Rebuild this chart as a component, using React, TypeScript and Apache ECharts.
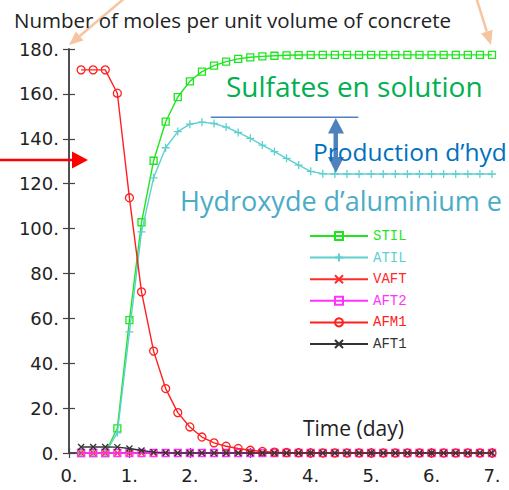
import React, { useEffect, useRef } from "react";
import * as echarts from "echarts";

const time = [0.2, 0.4, 0.6, 0.8, 1.0, 1.2, 1.4, 1.6, 1.8, 2.0, 2.2, 2.4, 2.6, 2.8, 3.0, 3.2, 3.4, 3.6, 3.8, 4.0, 4.2, 4.4, 4.6, 4.8, 5.0, 5.2, 5.4, 5.6, 5.8, 6.0, 6.2, 6.4, 6.6, 6.8, 7.0];
const STIL = [0, 0, 0, 11, 59.2, 102.8, 130.2, 147.6, 158.6, 165.6, 169.9, 172.6, 174.4, 175.6, 176.3, 176.7, 177.0, 177.2, 177.3, 177.4, 177.4, 177.4, 177.4, 177.4, 177.4, 177.4, 177.4, 177.4, 177.4, 177.4, 177.4, 177.4, 177.4, 177.4, 177.4];
const ATIL = [0, 0, 0, 9, 54, 98.5, 122.6, 136, 143.2, 146.5, 147.4, 146.8, 145.2, 142.8, 140.2, 137.2, 134.3, 131.3, 128.3, 125.5, 124.4, 124.3, 124.3, 124.3, 124.3, 124.3, 124.3, 124.3, 124.3, 124.3, 124.3, 124.3, 124.3, 124.3, 124.3];
const VAFT = [0, 0, 0, 0, 0, 0, 0, 0, 0, 0, 0, 0, 0, 0, 0, 0, 0, 0, 0, 0, 0, 0, 0, 0, 0, 0, 0, 0, 0, 0, 0, 0, 0, 0, 0];
const AFT2 = [0, 0, 0, 0, 0, 0, 0, 0, 0, 0, 0, 0, 0, 0, 0, 0, 0, 0, 0, 0, 0, 0, 0, 0, 0, 0, 0, 0, 0, 0, 0, 0, 0, 0, 0];
const AFM1 = [170.7, 170.7, 170.7, 160.3, 113.7, 71.8, 45.4, 28.7, 18.0, 11.6, 7.1, 4.5, 3.0, 2.0, 1.2, 0.7, 0.4, 0.2, 0.1, 0, 0, 0, 0, 0, 0, 0, 0, 0, 0, 0, 0, 0, 0, 0, 0];
const AFT1 = [2.7, 2.7, 2.7, 2.6, 2.0, 1.1, 0.4, 0.1, 0, 0, 0, 0, 0, 0, 0, 0, 0, 0, 0, 0, 0, 0, 0, 0, 0, 0, 0, 0, 0, 0, 0, 0, 0, 0, 0];

const seriesNames = ["STIL", "ATIL", "VAFT", "AFT2", "AFM1", "AFT1"];
const seriesValues = [STIL, ATIL, VAFT, AFT2, AFM1, AFT1];
const seriesColors = ["#1ee61e", "#5fd0d0", "#ff2a2a", "#ff33ff", "#ff2020", "#333333"];
const seriesSymbols = [
  "path://M0,0H10V10H0Z",
  "path://M5,0V10M0,5H10",
  "path://M0,0L10,10M10,0L0,10",
  "path://M0,0H10V10H0Z",
  "circle",
  "path://M0,0L10,10M10,0L0,10",
];
const seriesSymbolSizes = [7, 8, 6, 7, 8, 6];

const xTicks = { min: 0, max: 7, interval: 1 };
const yTicks = { min: 0, max: 180, interval: 20 };

function arrowHead(x1: number, y1: number, x2: number, y2: number, len: number, w: number) {
  const dx = x2 - x1, dy = y2 - y1;
  const d = Math.sqrt(dx * dx + dy * dy);
  const ux = dx / d, uy = dy / d;
  const bx = x2 - ux * len, by = y2 - uy * len;
  const px = -uy * w / 2, py = ux * w / 2;
  return {
    base: [bx, by],
    points: [[x2, y2], [bx + px, by + py], [bx - px, by - py]],
  };
}

export default function App() {
  const ref = useRef<HTMLDivElement>(null);
  useEffect(() => {
    if (!ref.current) return;
    const chart = echarts.init(ref.current, null, { renderer: "svg" });
    const axisColor = "#444";
    const series = seriesNames.map((name, i) => ({
      name,
      type: "line",
      data: time.map((t, k) => [t, seriesValues[i][k]]),
      symbol: seriesSymbols[i],
      symbolSize: seriesSymbolSizes[i],
      symbolKeepAspect: true,
      showAllSymbol: true,
      clip: false,
      lineStyle: { color: seriesColors[i], width: 1.4 },
      itemStyle: { color: "rgba(0,0,0,0)", borderColor: seriesColors[i], borderWidth: 1.3 },
      emphasis: { disabled: true },
      z: 2 + i,
    }));

    const peach = "#f7c4a0";
    const a1 = arrowHead(126, -3, 69, 45, 14, 12);
    const a2 = arrowHead(476, -3, 491, 45, 14, 12);
    const blue = "#4f81bd";

    chart.setOption({
      animation: false,
      grid: { left: 69, top: 49, right: 17, bottom: 37, containLabel: false },
      xAxis: [
        {
          type: "value", position: "bottom", ...xTicks,
          axisLine: { show: true, lineStyle: { color: axisColor, width: 1.5 } },
          axisTick: { show: true, inside: true, length: 5, lineStyle: { color: axisColor, width: 1.2 } },
          axisLabel: { formatter: (v: number) => v + ".", fontSize: 18, color: "#222", fontFamily: "DejaVu Sans", margin: 13 },
          splitLine: { show: false },
        },
        {
          type: "value", position: "top", ...xTicks,
          axisLine: { show: true, lineStyle: { color: axisColor, width: 1.5 } },
          axisTick: { show: true, inside: true, length: 5, lineStyle: { color: axisColor, width: 1.2 } },
          axisLabel: { show: false },
          splitLine: { show: false },
        },
      ],
      yAxis: [
        {
          type: "value", position: "left", ...yTicks,
          axisLine: { show: true, lineStyle: { color: axisColor, width: 1.5 } },
          axisTick: { show: true, inside: true, length: 6, lineStyle: { color: axisColor, width: 1.2 } },
          axisLabel: { formatter: (v: number) => v + ".", fontSize: 18, color: "#222", fontFamily: "DejaVu Sans", margin: 10 },
          splitLine: { show: false },
        },
        {
          type: "value", position: "right", ...yTicks,
          axisLine: { show: true, lineStyle: { color: axisColor, width: 1.5 } },
          axisTick: { show: true, inside: true, length: 6, lineStyle: { color: axisColor, width: 1.2 } },
          axisLabel: { show: false },
          splitLine: { show: false },
        },
      ],
      legend: {
        orient: "vertical",
        left: 309,
        top: 229,
        padding: 0,
        itemWidth: 58,
        itemHeight: 10,
        itemGap: 7.6,
        selectedMode: false,
        textStyle: { fontFamily: "Liberation Mono", fontSize: 14, lineHeight: 14 },
        data: seriesNames.map((n, i) => ({ name: n, textStyle: { color: seriesColors[i] } })),
      },
      series,
      graphic: [
        { type: "line", z: 100, shape: { x1: 126, y1: -3, x2: a1.base[0], y2: a1.base[1] }, style: { stroke: peach, lineWidth: 2.5 } },
        { type: "polygon", z: 100, shape: { points: a1.points }, style: { fill: peach } },
        { type: "line", z: 100, shape: { x1: 476, y1: -3, x2: a2.base[0], y2: a2.base[1] }, style: { stroke: peach, lineWidth: 2.5 } },
        { type: "polygon", z: 100, shape: { points: a2.points }, style: { fill: peach } },
        { type: "line", z: 100, shape: { x1: 0, y1: 160, x2: 74, y2: 160 }, style: { stroke: "#ff0000", lineWidth: 2.5 } },
        { type: "polygon", z: 100, shape: { points: [[72, 151.5], [88, 160], [72, 168.5]] }, style: { fill: "#ff0000" } },
        { type: "line", z: 100, shape: { x1: 210.7, y1: 117.3, x2: 358.3, y2: 117.3 }, style: { stroke: blue, lineWidth: 1.5 } },
        { type: "rect", z: 100, shape: { x: 333.5, y: 132, width: 4.5, height: 26 }, style: { fill: blue } },
        { type: "polygon", z: 100, shape: { points: [[328, 133.5], [344, 133.5], [335.8, 118]] }, style: { fill: blue } },
        { type: "polygon", z: 100, shape: { points: [[328, 157], [344, 157], [335.8, 173]] }, style: { fill: blue } },
        { type: "text", z: 101, x: 14, y: 19.5, style: { text: "Number of moles per unit volume of concrete", fill: "#222", font: "20.5px 'Open Sans'", verticalAlign: "middle" } },
        { type: "text", z: 101, x: 226, y: 85.5, style: { text: "Sulfates en solution", fill: "#00b050", font: "28px 'Open Sans'", verticalAlign: "middle" } },
        { type: "text", z: 101, x: 313, y: 151.5, style: { text: "Production d’hyd", fill: "#0070c0", font: "24.5px 'Open Sans'", verticalAlign: "middle" } },
        { type: "text", z: 101, x: 180, y: 200, style: { text: "Hydroxyde d’aluminium e", fill: "#4bacc6", font: "27px 'Open Sans'", verticalAlign: "middle" } },
        { type: "text", z: 101, x: 303, y: 427.5, style: { text: "Time (day)", fill: "#222", font: "21px 'Open Sans'", verticalAlign: "middle" } },
      ],
    });
    return () => chart.dispose();
  }, []);
  return <div ref={ref} style={{ position: "fixed", left: 0, top: 0, width: 509, height: 490, background: "#fff" }} />;
}
